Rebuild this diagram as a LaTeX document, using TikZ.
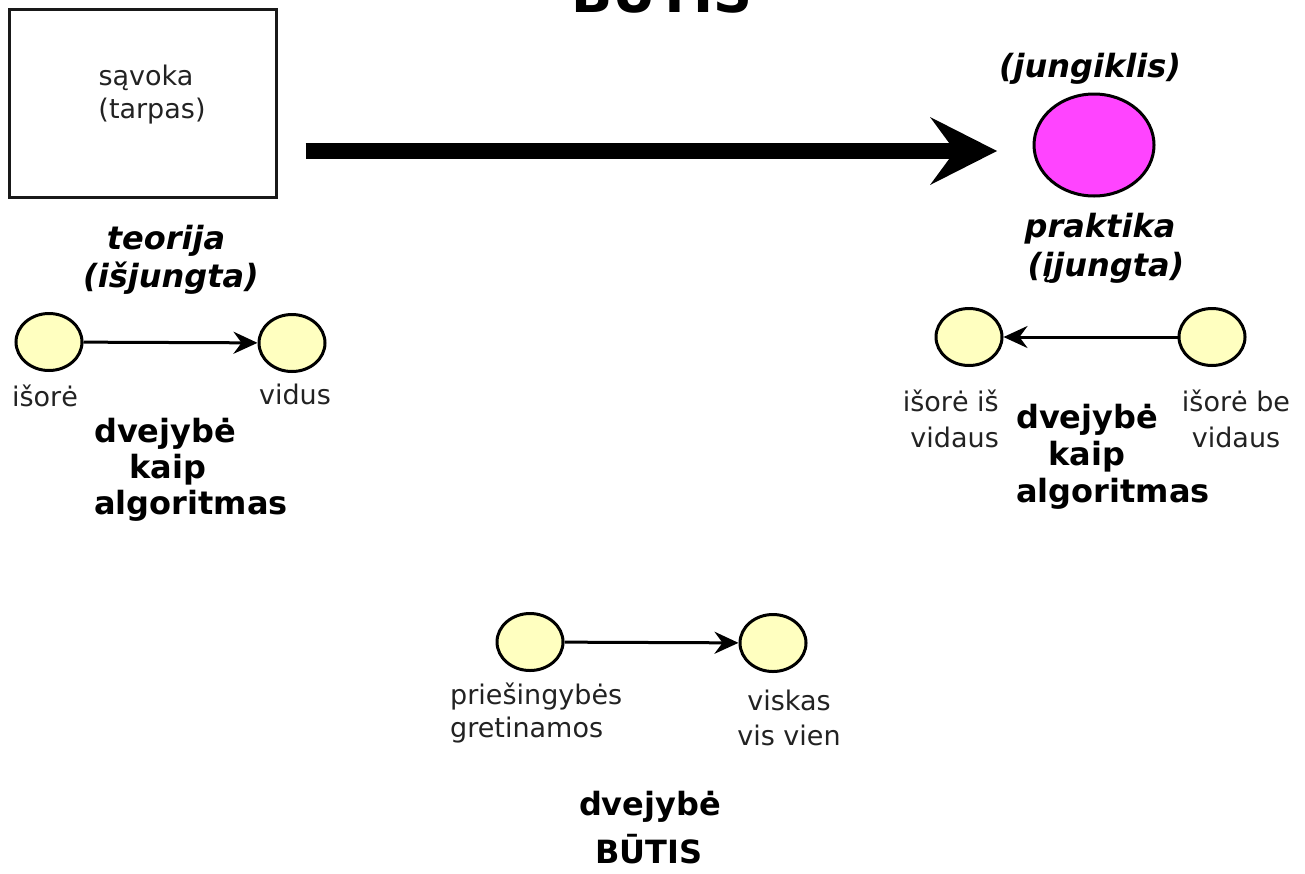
\documentclass[tikz,border=0pt]{standalone}
\usepackage{fontspec}
\setmainfont{DejaVu Sans}
\usetikzlibrary{shapes.geometric,arrows.meta}
\definecolor{lighty}{HTML}{FFFFC0}
\definecolor{magent}{HTML}{FF44FF}
\definecolor{txtgray}{HTML}{222222}
\begin{document}
\begin{tikzpicture}[x=1pt,y=-1pt,
  reg/.style={font=\fontsize{27}{33}\selectfont, text=txtgray, inner sep=0pt, anchor=base},
  bld/.style={font=\fontsize{32}{37}\selectfont\bfseries, text=black, inner sep=0pt, anchor=base},
  bit/.style={font=\fontsize{32}{37}\selectfont\bfseries\itshape, text=black, inner sep=0pt, anchor=base},
  dot/.style={ellipse, draw=black, line width=3pt, fill=lighty, minimum width=66pt, minimum height=57pt, inner sep=0pt},
  arr/.style={-{Stealth[length=24pt,width=22pt,inset=8pt]}, line width=3pt}]
\useasboundingbox (0,0) rectangle (1305,873);

% title (cut at top)
\node[font=\fontsize{54}{60}\selectfont\bfseries, inner sep=0pt, anchor=base] (title) at (662,12.5) {BŪTIS};

% concept box
\node[draw=black!90, line width=3pt, minimum width=267pt, minimum height=188pt, inner sep=0pt] (box) at (142.5,103) {};
\node[reg] (sav1) at (146,85) {sąvoka};
\node[reg] (sav2) at (152,118) {(tarpas)};

% switch
\node[ellipse, draw=black, line width=3pt, fill=magent, minimum width=120pt, minimum height=102pt, inner sep=0pt] (mag) at (1094,145) {};
\node[bit] (jung) at (1090,77) {(jungiklis)};

% big arrow
\coordinate (bigy) at (0,151);
\draw[line width=16pt, -{Stealth[length=67pt,width=68pt,inset=25pt,line width=0pt]}, shorten <=28pt]
  (box.east |- bigy) -- (997,151) coordinate (tipend);

% theory
\node[bit] (teo1) at (166,249) {teorija};
\node[bit] (teo2) at (171,287) {(išjungta)};
\node[dot] (a) at (49,342) {};
\node[dot] (b) at (292,343) {};
\draw[arr] (a) -- (b);
\node[reg] (la) at (45,406) {išorė};
\node[reg] (lb) at (295,404) {vidus};
\node[bld, anchor=base west] (d1a) at (94,442) {dvejybė};
\node[bld, anchor=base west] (d1b) at (129,478) {kaip};
\node[bld, anchor=base west] (d1c) at (94,514) {algoritmas};

% practice
\node[bit] (pr1) at (1100,237) {praktika};
\node[bit] (pr2) at (1106,276) {(įjungta)};
\node[dot] (c) at (969,337) {};
\node[dot] (d) at (1212,337) {};
\draw[arr] (d) -- (c);
\node[reg, anchor=base east] (lc1) at (999,411) {išorė iš};
\node[reg, anchor=base east] (lc2) at (999,447) {vidaus};
\node[reg] (ld1) at (1236,411) {išorė be};
\node[reg] (ld2) at (1236,447) {vidaus};
\node[bld, anchor=base west] (d2a) at (1016,428) {dvejybė};
\node[bld, anchor=base west] (d2b) at (1048,465) {kaip};
\node[bld, anchor=base west] (d2c) at (1016,502) {algoritmas};

% being
\node[dot] (e) at (530,642) {};
\node[dot] (f) at (773,643) {};
\draw[arr] (e) -- (f);
\node[reg, anchor=base west] (le1) at (450,704) {priešingybės};
\node[reg, anchor=base west] (le2) at (450,737) {gretinamos};
\node[reg] (lf1) at (789,710) {viskas};
\node[reg] (lf2) at (789,745) {vis vien};
\node[bld] (d3a) at (650,815) {dvejybė};
\node[bld] (d3b) at (649,863) {BŪTIS};
\end{tikzpicture}
\end{document}
